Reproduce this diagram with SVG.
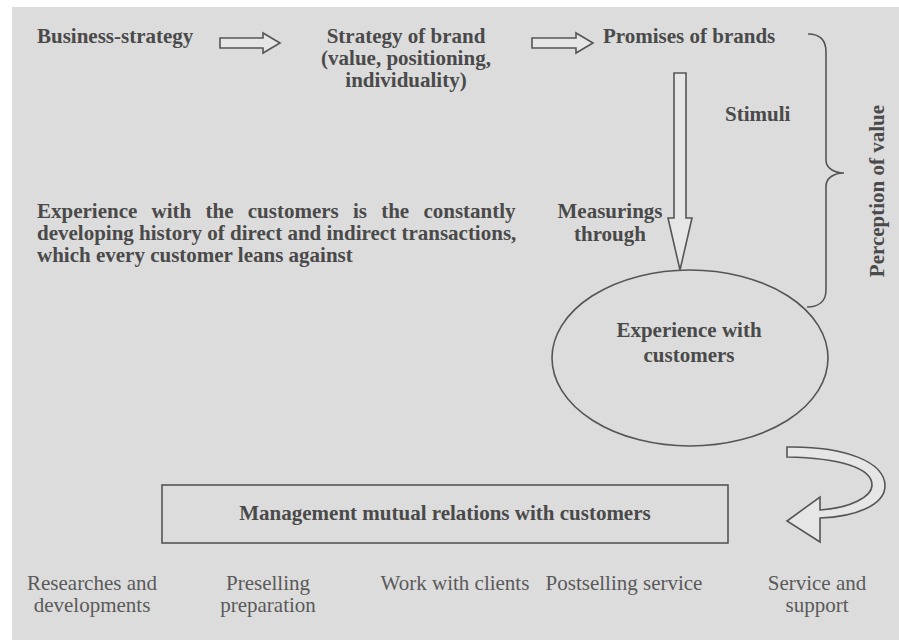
<svg xmlns="http://www.w3.org/2000/svg" width="899" height="640" viewBox="0 0 899 640">
<style>
.b{font-family:"Liberation Serif","Times New Roman",serif;font-weight:bold;font-size:21px;fill:#4a4a4a}
.r{font-family:"Liberation Serif","Times New Roman",serif;font-size:21px;fill:#5a5a5a}
.m{text-anchor:middle}
.ln{fill:none;stroke:#555;stroke-width:1.6}
.ar{fill:#e6e6e6;stroke:#555;stroke-width:1.6;stroke-linejoin:miter}
</style>
<rect x="0" y="0" width="899" height="640" fill="#ffffff"/>
<rect x="12" y="7" width="887" height="633" fill="#dcdcdc"/>

<g id="business-strategy"><text class="b" x="37" y="43">Business-strategy</text></g>
<g id="strategy-of-brand">
<text class="b m" x="406" y="43">Strategy of brand</text>
<text class="b m" x="406" y="65">(value, positioning,</text>
<text class="b m" x="406" y="87">individuality)</text>
</g>
<g id="promises-of-brands"><text class="b" x="603" y="43">Promises of brands</text></g>
<g id="stimuli"><text class="b" x="725" y="121">Stimuli</text></g>
<g id="measurings-through">
<text class="b m" x="610" y="218">Measurings</text>
<text class="b m" x="610" y="241">through</text>
</g>
<g id="definition">
<text class="b" x="37" y="218" word-spacing="9">Experience with the customers is the constantly</text>
<text class="b" x="37" y="240">developing history of direct and indirect transactions,</text>
<text class="b" x="37" y="262">which every customer leans against</text>
</g>
<g id="experience-with-customers">
<ellipse class="ln" cx="690" cy="358" rx="138" ry="88"/>
<text class="b m" x="689" y="337">Experience with</text>
<text class="b m" x="689" y="362">customers</text>
</g>
<g id="perception-of-value">
<text class="b m" transform="translate(884,191) rotate(-90)">Perception of value</text>
</g>
<g id="management">
<rect class="ln" x="162" y="485" width="566" height="58"/>
<text class="b m" x="445" y="520">Management mutual relations with customers</text>
</g>
<g id="researches"><text class="r m" x="92" y="590">Researches and</text><text class="r m" x="92" y="612">developments</text></g>
<g id="preselling"><text class="r m" x="268" y="590">Preselling</text><text class="r m" x="268" y="612">preparation</text></g>
<g id="work-with-clients"><text class="r m" x="455" y="590">Work with clients</text></g>
<g id="postselling"><text class="r m" x="624" y="590">Postselling service</text></g>
<g id="service-support"><text class="r m" x="817" y="590">Service and</text><text class="r m" x="817" y="612">support</text></g>

<g id="connectors">
<path class="ar" d="M220,38 L263,38 L263,33 L280,43 L263,53 L263,48 L220,48 Z"/>
<path class="ar" d="M532,38 L576,38 L576,33 L593,43 L576,53 L576,48 L532,48 Z"/>
<path class="ar" d="M674,73 L686,73 L686,218 L692,218 L680,270 L668,218 L674,218 Z"/>
<path class="ln" d="M808,34 C820,34 826,40 826,52 L826,160 C826,168 834,173 844,173 C834,173 826,178 826,186 L826,290 C826,302 818,307 807,307"/>
<path class="ar" d="M787,447 C845,446 885,462 885,486 C885,505 855,517 820,518 L820,542 L787,521 L820,497 L820,510 C850,508 872,497 872,485 C872,468 840,458 787,457 Z"/>
</g>
</svg>
